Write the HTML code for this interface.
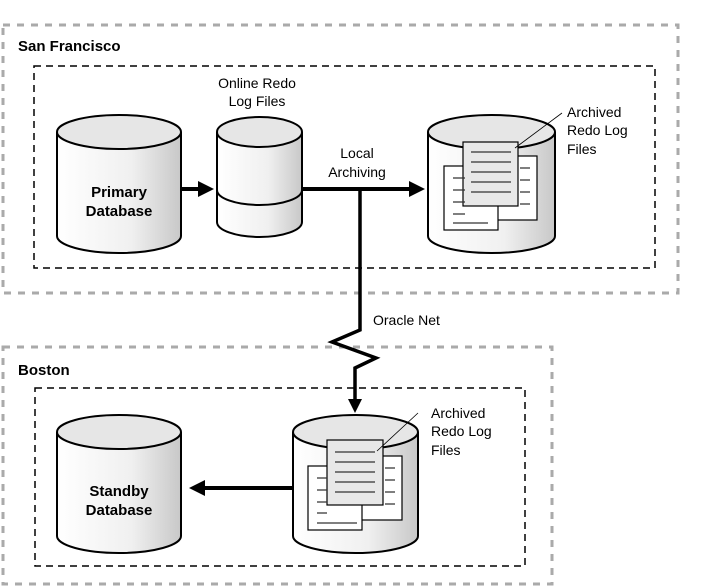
<!DOCTYPE html>
<html><head><meta charset="utf-8"><style>body{margin:0;background:#fff}svg{display:block}text{font-family:"Liberation Sans",sans-serif}</style></head><body>
<svg width="706" height="587" viewBox="0 0 706 587" xmlns="http://www.w3.org/2000/svg">
<defs>
<linearGradient id="g" x1="0" x2="1" y1="0" y2="0"><stop offset="0" stop-color="#fff"/><stop offset="0.6" stop-color="#f0f0f0"/><stop offset="1" stop-color="#c8c8c8"/></linearGradient>
<marker id="ah" markerWidth="4" markerHeight="4" refX="2" refY="2" orient="auto" markerUnits="strokeWidth"><path d="M0,0L4,2L0,4z" fill="#000"/></marker>
</defs>
<!-- outer boxes -->
<rect x="3" y="25" width="675" height="268" fill="none" stroke="#aaa" stroke-width="3" stroke-dasharray="7,7"/>
<rect x="3" y="347" width="549" height="237" fill="none" stroke="#aaa" stroke-width="3" stroke-dasharray="7,7"/>
<rect x="34" y="66" width="621" height="202" fill="none" stroke="#000" stroke-width="1.5" stroke-dasharray="7,5"/>
<rect x="35" y="388" width="490" height="178" fill="none" stroke="#000" stroke-width="1.5" stroke-dasharray="7,5"/>
<text x="18" y="51" font-size="15" font-weight="bold">San Francisco</text>
<text x="18" y="375" font-size="15" font-weight="bold">Boston</text>
<g stroke="#000" stroke-width="2">
<!-- primary -->
<path d="M57,132 L57,236 A62,17 0 0 0 181,236 L181,132" fill="url(#g)"/>
<ellipse cx="119" cy="132" rx="62" ry="17" fill="#e6e6e6"/>
<!-- online redo -->
<path d="M217,132 L217,222 A42.5,15 0 0 0 302,222 L302,132" fill="url(#g)"/>
<path d="M217,190 A42.5,15 0 0 0 302,190" fill="none"/>
<ellipse cx="259.5" cy="132" rx="42.5" ry="15" fill="#e6e6e6"/>
<!-- archive SF -->
<path d="M428,132 L428,236 A63.5,17 0 0 0 555,236 L555,132" fill="url(#g)"/>
<ellipse cx="491.5" cy="132" rx="63.5" ry="17" fill="#e6e6e6"/>
<!-- standby -->
<path d="M57,432 L57,536 A62,17 0 0 0 181,536 L181,432" fill="url(#g)"/>
<ellipse cx="119" cy="432" rx="62" ry="17" fill="#e6e6e6"/>
<!-- archive Boston -->
<path d="M293,432 L293,536 A62.5,17 0 0 0 418,536 L418,432" fill="url(#g)"/>
<ellipse cx="355.5" cy="432" rx="62.5" ry="17" fill="#e6e6e6"/>
</g>
<!-- docs SF -->
<g stroke="#000" stroke-width="1.2">
<rect x="482" y="156" width="55" height="64" fill="#fff"/>
<rect x="444" y="166" width="54" height="64" fill="#fff"/>
<rect x="463" y="142" width="55" height="64" fill="#e8e8e8"/>
<path d="M453,178h12M453,190h12M453,202h12M453,214h12M453,223h35M520,168h10M520,180h10M520,192h10M520,204h10M471,152h40M471,162h40M471,172h40M471,182h40M471,192h40" stroke="#333"/>
<rect x="482" y="156" width="55" height="64" fill="#fff" opacity="0"/>
<rect x="327" y="455" width="75" height="65" fill="none" stroke="none"/>
<rect x="345" y="456" width="57" height="64" fill="#fff"/>
<rect x="308" y="466" width="54" height="64" fill="#fff"/>
<rect x="327" y="440" width="56" height="65" fill="#e8e8e8"/>
<path d="M317,478h10M317,490h10M317,502h10M317,513h10M317,523h40M385,468h10M385,480h10M385,492h10M385,504h10M335,452h40M335,462h40M335,472h40M335,482h40M335,492h40" stroke="#333"/>
<path d="M515,148L562,113M377,451L418,413" stroke="#000" stroke-width="0.8"/>
</g>
<!-- arrows -->
<g stroke="#000" stroke-width="4" fill="none">
<path d="M181,189H206" marker-end="url(#ah)"/>
<path d="M302,189H417" marker-end="url(#ah)"/>
<path d="M360,189V330L332,342L376,358L355,368V406" stroke-width="3.5" marker-end="url(#ah)"/>
<path d="M293,488H197" marker-end="url(#ah)"/>
</g>
<g font-size="14" fill="#000">
<text x="257" y="88" text-anchor="middle">Online Redo</text>
<text x="257" y="106" text-anchor="middle">Log Files</text>
<text x="357" y="158" text-anchor="middle">Local</text>
<text x="357" y="177" text-anchor="middle">Archiving</text>
<text x="567" y="117">Archived</text><text x="567" y="135">Redo Log</text><text x="567" y="154">Files</text>
<text x="431" y="418">Archived</text><text x="431" y="436">Redo Log</text><text x="431" y="455">Files</text>
<text x="373" y="325">Oracle Net</text>
</g>
<g font-size="15" font-weight="bold" text-anchor="middle">
<text x="119" y="197">Primary</text><text x="119" y="216">Database</text>
<text x="119" y="496">Standby</text><text x="119" y="515">Database</text>
</g>
</svg>
</body></html>
